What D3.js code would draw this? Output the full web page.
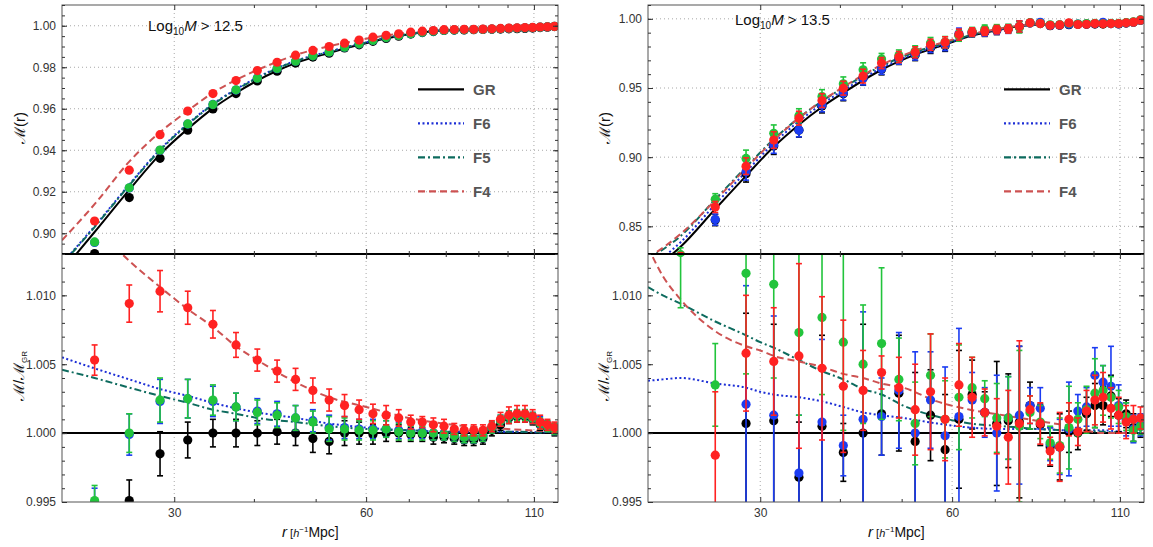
<!DOCTYPE html>
<html>
<head>
<meta charset="utf-8">
<script src="https://cdn.jsdelivr.net/npm/d3@7"></script>
<style>
  body { margin: 0; background: #fff; font-family: "Liberation Sans", Arial, sans-serif; }
</style>
</head>
<body>
<svg id="chart" width="1153" height="547"></svg>
<script>
// bin centres, r in h^-1 Mpc
const rBins = [22.5, 25.5, 28.5, 31.5, 34.5, 37.5, 40.5, 43.5, 46.5, 49.5, 52.5, 55.5, 58.5, 61.5, 64.5, 67.5, 70.5,
  73.5, 76.5, 79.5, 82.5, 85.5, 88.5, 91.5, 94.5, 97.5, 100.5, 103.5, 106.5, 109.5, 112.5, 115.5, 118.5];

const xMajor = [30, 60, 110];
const xMinor = [40, 50, 70, 80, 90, 100];
const ratioTicks = [0.995, 1.000, 1.005, 1.010];

// ---- Log10 M > 12.5 : M(r) points
const mLow_GR = [0.8902, 0.9172, 0.9361, 0.9497, 0.9599, 0.9673, 0.9734, 0.9781, 0.9820, 0.9849, 0.9868, 0.9893, 0.9908,
  0.9925, 0.9939, 0.9950, 0.9960, 0.9967, 0.9972, 0.9977, 0.9979, 0.9980, 0.9981, 0.9982, 0.9983, 0.9984, 0.9985,
  0.9986, 0.9987, 0.9989, 0.9991, 0.9993, 0.9996];
const mLow_F6 = [0.8956, 0.9218, 0.9400, 0.9526, 0.9621, 0.9690, 0.9748, 0.9793, 0.9829, 0.9856, 0.9874, 0.9897, 0.9913,
  0.9929, 0.9943, 0.9953, 0.9962, 0.9969, 0.9974, 0.9978, 0.9980, 0.9981, 0.9982, 0.9983, 0.9984, 0.9986, 0.9988,
  0.9989, 0.9990, 0.9991, 0.9993, 0.9995, 0.9997];
const mLow_F5 = [0.8958, 0.9219, 0.9401, 0.9527, 0.9620, 0.9691, 0.9747, 0.9794, 0.9829, 0.9855, 0.9874, 0.9897, 0.9913,
  0.9929, 0.9943, 0.9953, 0.9962, 0.9969, 0.9974, 0.9978, 0.9980, 0.9981, 0.9982, 0.9983, 0.9984, 0.9986, 0.9988,
  0.9989, 0.9990, 0.9991, 0.9993, 0.9995, 0.9997];
const mLow_F4 = [0.9059, 0.9304, 0.9475, 0.9589, 0.9673, 0.9736, 0.9784, 0.9824, 0.9858, 0.9881, 0.9900, 0.9916, 0.9931,
  0.9945, 0.9954, 0.9961, 0.9969, 0.9974, 0.9977, 0.9981, 0.9982, 0.9983, 0.9983, 0.9984, 0.9985, 0.9987, 0.9989,
  0.9990, 0.9991, 0.9992, 0.9994, 0.9995, 0.9997];

// model curves, upper left
const rCurveLowUp = [20, 22.5, 25.5, 28.5, 31.5, 34.5, 37.5, 40.5, 43.5, 46.5, 52.5, 58.5, 64.5, 70.5, 79.5, 88.5, 100.5, 110, 120];
const curveLowUp_GR = [0.8817, 0.9006, 0.9209, 0.9380, 0.9503, 0.9602, 0.9676, 0.9736, 0.9783, 0.9820, 0.9869, 0.9908, 0.9939, 0.9960, 0.9977, 0.9981, 0.9985, 0.9989, 0.9997];
const curveLowUp_F6 = [0.8855, 0.9034, 0.9235, 0.9404, 0.9527, 0.9623, 0.9694, 0.9751, 0.9796, 0.9831, 0.9876, 0.9912, 0.9942, 0.9962, 0.9978, 0.9982, 0.9986, 0.9990, 0.9997];
const curveLowUp_F5 = [0.8850, 0.9030, 0.9231, 0.9400, 0.9524, 0.9620, 0.9691, 0.9748, 0.9794, 0.9829, 0.9874, 0.9911, 0.9941, 0.9962, 0.9978, 0.9982, 0.9986, 0.9990, 0.9997];
const curveLowUp_F4 = [0.8966, 0.9140, 0.9345, 0.9487, 0.9590, 0.9677, 0.9739, 0.9787, 0.9826, 0.9859, 0.9901, 0.9931, 0.9953, 0.9968, 0.9980, 0.9984, 0.9986, 0.9990, 0.9997];

// ratio M/M_GR, lower left
const ratioLow_GR = [0.9930, 0.9951, 0.9985, 0.9995, 1.0000, 1.0000, 1.0000, 1.0001, 1.0000, 0.9996, 0.9994, 1.0000, 1.0000,
  0.9999, 1.0000, 1.0000, 0.9999, 0.9999, 0.9997, 0.9997, 0.9996, 0.9995, 0.9995, 0.9996, 1.0002, 1.0006, 1.0011,
  1.0012, 1.0012, 1.0010, 1.0006, 1.0004, 1.0002];
const errLow_GR = [0.0011, 0.0015, 0.0016, 0.0013, 0.0010, 0.0010, 0.0009, 0.0009, 0.0009, 0.0010, 0.0009, 0.0009, 0.0008,
  0.0007, 0.0006, 0.0006, 0.0005, 0.0005, 0.0005, 0.0004, 0.0004, 0.0004, 0.0004, 0.0004, 0.0004, 0.0004, 0.0004,
  0.0004, 0.0004, 0.0004, 0.0004, 0.0004, 0.0004];
const ratioLow_F6 = [0.9949, 0.9999, 1.0023, 1.0025, 1.0023, 1.0019, 1.0016, 1.0014, 1.0011, 1.0009, 1.0004, 1.0004, 1.0003,
  1.0003, 1.0003, 1.0002, 1.0001, 1.0001, 1.0000, 0.9999, 0.9998, 0.9997, 0.9997, 0.9998, 1.0004, 1.0009, 1.0012,
  1.0013, 1.0013, 1.0011, 1.0008, 1.0005, 1.0003];
const errLow_F6 = [0.0011, 0.0015, 0.0016, 0.0014, 0.0011, 0.0010, 0.0009, 0.0009, 0.0009, 0.0008, 0.0009, 0.0008, 0.0007,
  0.0007, 0.0006, 0.0006, 0.0005, 0.0005, 0.0005, 0.0004, 0.0004, 0.0004, 0.0004, 0.0004, 0.0004, 0.0004, 0.0004,
  0.0004, 0.0004, 0.0004, 0.0004, 0.0004, 0.0004];
const ratioLow_F5 = [0.9951, 1.0000, 1.0024, 1.0025, 1.0024, 1.0019, 1.0015, 1.0013, 1.0011, 1.0008, 1.0003, 1.0003, 1.0002,
  1.0002, 1.0003, 1.0001, 1.0000, 1.0000, 1.0000, 0.9999, 0.9998, 0.9997, 0.9997, 0.9998, 1.0004, 1.0009, 1.0012,
  1.0013, 1.0013, 1.0011, 1.0007, 1.0005, 1.0003];
const errLow_F5 = [0.0011, 0.0014, 0.0016, 0.0014, 0.0011, 0.0010, 0.0009, 0.0009, 0.0009, 0.0008, 0.0009, 0.0008, 0.0007,
  0.0007, 0.0006, 0.0006, 0.0005, 0.0005, 0.0005, 0.0004, 0.0004, 0.0004, 0.0004, 0.0004, 0.0004, 0.0004, 0.0004,
  0.0004, 0.0004, 0.0004, 0.0004, 0.0004, 0.0004];
const ratioLow_F4 = [1.0053, 1.0094, 1.0103, 1.0091, 1.0079, 1.0064, 1.0053, 1.0045, 1.0039, 1.0031, 1.0024, 1.0020, 1.0017,
  1.0014, 1.0013, 1.0011, 1.0008, 1.0008, 1.0006, 1.0005, 1.0003, 1.0002, 1.0002, 1.0002, 1.0005, 1.0010, 1.0013,
  1.0014, 1.0014, 1.0012, 1.0008, 1.0006, 1.0004];
const errLow_F4 = [0.0011, 0.00135, 0.0015, 0.0012, 0.0010, 0.0009, 0.0008, 0.0008, 0.0008, 0.0009, 0.0008, 0.0008, 0.0007,
  0.0007, 0.0007, 0.0006, 0.0005, 0.0004, 0.0005, 0.0005, 0.0004, 0.0004, 0.0004, 0.0004, 0.0004, 0.0005, 0.0006,
  0.0006, 0.0006, 0.0005, 0.0005, 0.0004, 0.0004];

const rCurveLowRatio = [20, 22.5, 25.5, 28.5, 31.5, 34.5, 37.5, 40.5, 46.5, 52.5, 60, 70, 82.5, 100, 120];
const curveLowRatio_GR = [1, 1, 1, 1, 1, 1, 1, 1, 1, 1, 1, 1, 1, 1, 1];
const curveLowRatio_F6 = [1.0055, 1.0047, 1.0039, 1.0032, 1.0027, 1.0022, 1.0018, 1.0015, 1.0011, 1.0007, 1.0004, 1.0002, 1.0001, 1.0001, 1.0000];
const curveLowRatio_F5 = [1.0046, 1.0040, 1.0033, 1.0027, 1.0022, 1.0017, 1.0014, 1.0011, 1.0008, 1.0005, 1.0003, 1.0002, 1.0001, 1.0001, 1.0000];
const curveLowRatio_F4 = [1.0175, 1.0150, 1.0125, 1.0106, 1.0090, 1.0077, 1.0063, 1.0053, 1.0037, 1.0026, 1.0019, 1.0011, 1.0006, 1.0003, 1.0001];

// ---- Log10 M > 13.5 : M(r) points
const mHigh_GR = [0.8140, 0.8545, 0.8880, 0.9080, 0.9195, 0.9370, 0.9458, 0.9570, 0.9635, 0.9710, 0.9738, 0.9790, 0.9805,
  0.9883, 0.9900, 0.9903, 0.9916, 0.9928, 0.9943, 0.9970, 0.9966, 0.9950, 0.9953, 0.9958, 0.9960, 0.9960, 0.9962,
  0.9962, 0.9966, 0.9963, 0.9969, 0.9975, 0.9989];
const mHigh_F6 = [0.8150, 0.8549, 0.8894, 0.9088, 0.9197, 0.9378, 0.9463, 0.9572, 0.9639, 0.9712, 0.9742, 0.9796, 0.9810,
  0.9893, 0.9903, 0.9905, 0.9918, 0.9925, 0.9945, 0.9970, 0.9975, 0.9952, 0.9955, 0.9960, 0.9962, 0.9963, 0.9965,
  0.9975, 0.9966, 0.9964, 0.9970, 0.9975, 0.9990];
const mHigh_F5 = [0.8295, 0.8696, 0.8991, 0.9173, 0.9300, 0.9438, 0.9530, 0.9632, 0.9710, 0.9735, 0.9765, 0.9825, 0.9832,
  0.9878, 0.9908, 0.9925, 0.9928, 0.9930, 0.9938, 0.9972, 0.9968, 0.9957, 0.9958, 0.9968, 0.9962, 0.9966, 0.9968,
  0.9966, 0.9968, 0.9968, 0.9972, 0.9978, 0.9992];
const mHigh_F4 = [0.8260, 0.8640, 0.8935, 0.9124, 0.9282, 0.9409, 0.9499, 0.9586, 0.9680, 0.9724, 0.9758, 0.9813, 0.9830,
  0.9886, 0.9905, 0.9910, 0.9922, 0.9927, 0.9945, 0.9971, 0.9966, 0.9953, 0.9956, 0.9971, 0.9959, 0.9961, 0.9966,
  0.9964, 0.9966, 0.9966, 0.9971, 0.9976, 0.9990];
const errHighUp = [0.005, 0.004, 0.006, 0.006, 0.005, 0.005, 0.005, 0.005, 0.004, 0.004, 0.004, 0.004, 0.004, 0.004, 0.003,
  0.003, 0.003, 0.003, 0.004, 0.002, 0.002, 0.002, 0.002, 0.002, 0.002, 0.0015, 0.0015, 0.0015, 0.0015, 0.0015,
  0.001, 0.001, 0.001];

const rCurveHighUp = [20, 22.5, 25.5, 28.5, 31.5, 34.5, 37.5, 40.5, 46.5, 52.5, 58.5, 64.5, 70.5, 76.5, 82.5, 91.5, 100.5, 106.5, 112.5, 120];
const curveHighUp_GR = [0.8165, 0.8352, 0.8625, 0.8865, 0.9075, 0.9235, 0.9363, 0.9465, 0.9632, 0.9741, 0.9814, 0.9879, 0.9918, 0.9946, 0.9959, 0.9961, 0.9959, 0.9956, 0.9966, 0.9990];
const curveHighUp_F6 = [0.8195, 0.8385, 0.8659, 0.8894, 0.9101, 0.9260, 0.9384, 0.9483, 0.9644, 0.9750, 0.9819, 0.9883, 0.9921, 0.9948, 0.9961, 0.9963, 0.9961, 0.9957, 0.9967, 0.9990];
const curveHighUp_F5 = [0.8265, 0.8430, 0.8695, 0.8928, 0.9130, 0.9284, 0.9405, 0.9502, 0.9659, 0.9760, 0.9826, 0.9886, 0.9922, 0.9949, 0.9962, 0.9963, 0.9960, 0.9957, 0.9966, 0.9990];
const curveHighUp_F4 = [0.8270, 0.8445, 0.8688, 0.8920, 0.9122, 0.9283, 0.9408, 0.9507, 0.9667, 0.9770, 0.9834, 0.9891, 0.9926, 0.9952, 0.9963, 0.9963, 0.9960, 0.9957, 0.9966, 0.9990];

// ratio M/M_GR, lower right (null = outside the frame)
const ratioHigh_GR = [null, null, 1.0007, 1.0009, 0.9968, 1.0005, 0.9986, 1.0000, 1.0014, 1.0029, 0.9994, 1.0013, 0.9988,
  1.0010, 1.0028, 1.0015, 1.0007, 1.0009, 1.0008, 1.0020, 1.0006, 0.9990, 0.9990, 1.0001, 1.0000, 1.0014, 1.0020,
  1.0020, 1.0027, 1.0013, 1.0014, 1.0004, 1.0005];
const errHigh_GR = [0, 0, 0.0080, 0.0070, 0.0040, 0.0066, 0.0021, 0.0079, 0.0030, 0.0042, 0.0050, 0.0033, 0.0040, 0.0050,
  0.0025, 0.0015, 0.0045, 0.0034, 0.0055, 0.0017, 0.0015, 0.0014, 0.0024, 0.0015, 0.0012, 0.0012, 0.0016, 0.0014,
  0.0015, 0.0012, 0.0010, 0.0010, 0.0008];
const ratioHigh_F6 = [null, 0.9910, 1.0021, 1.0013, 0.9971, 1.0008, 0.9991, 1.0010, 1.0012, 1.0031, 1.0000, 1.0024, 0.9998,
  1.0012, 1.0024, 1.0015, 1.0000, 1.0011, 1.0013, 1.0020, 1.0018, 0.9992, 0.9990, 1.0003, 1.0016, 1.0019, 1.0042,
  1.0037, 1.0034, 1.0020, 1.0010, 1.0003, 1.0006];
const errHigh_F6 = [0, 0.0030, 0.0086, 0.0072, 0.0042, 0.0060, 0.0022, 0.0078, 0.0028, 0.0042, 0.0059, 0.0035, 0.0050,
  0.0064, 0.0020, 0.0018, 0.0042, 0.0030, 0.0050, 0.0013, 0.0015, 0.0012, 0.0020, 0.0034, 0.0012, 0.0014, 0.0020,
  0.0012, 0.0029, 0.0015, 0.0012, 0.0010, 0.0008];
const ratioHigh_F5 = [1.0131, 1.0035, 1.0116, 1.0108, 1.0073, 1.0084, 1.0066, 1.0050, 1.0065, 1.0039, 1.0007, 1.0042, 1.0010,
  1.0026, 1.0033, 1.0025, 1.0011, 1.0011, 1.0005, 1.0015, 1.0008, 0.9993, 0.9991, 1.0004, 1.0010, 1.0017, 1.0029,
  1.0031, 1.0026, 1.0019, 1.0012, 1.0002, 1.0005];
const errHigh_F5 = [0.0040, 0.0030, 0.0073, 0.0068, 0.0060, 0.0056, 0.0064, 0.0043, 0.0055, 0.0030, 0.0030, 0.0030, 0.0028,
  0.0038, 0.0022, 0.0013, 0.0025, 0.0030, 0.0055, 0.0012, 0.0012, 0.0012, 0.0020, 0.0030, 0.0012, 0.0017, 0.0025,
  0.0018, 0.0015, 0.0012, 0.0010, 0.0008, 0.0006];
const ratioHigh_F4 = [null, 0.9984, 1.0058, 1.0052, 1.0056, 1.0047, 1.0034, 1.0031, 1.0044, 1.0033, 1.0017, 1.0030, 1.0010,
  1.0035, 1.0026, 1.0015, 1.0005, 0.9997, 1.0007, 1.0017, 1.0007, 0.9987, 0.9990, 1.0010, 1.0001, 1.0016, 1.0024,
  1.0026, 1.0018, 1.0013, 1.0008, 1.0010, 1.0011];
const errHigh_F4 = [0, 0.0046, 0.0042, 0.0039, 0.0067, 0.0052, 0.0048, 0.0029, 0.0012, 0.0022, 0.0033, 0.0042, 0.0030,
  0.0030, 0.0029, 0.0017, 0.0020, 0.0034, 0.0060, 0.0010, 0.0015, 0.0010, 0.0025, 0.0012, 0.0010, 0.0015, 0.0018,
  0.0018, 0.0015, 0.0013, 0.0012, 0.0010, 0.0008];

const rCurveHighRatio = [20, 21.1, 22.5, 25.5, 28.5, 30, 31.5, 34.5, 37.5, 40.5, 43.5, 46.5, 50.3, 56.8, 64, 72.2, 81.5, 91.9, 103.7, 117, 120];
const curveHighRatio_GR = [1, 1, 1, 1, 1, 1, 1, 1, 1, 1, 1, 1, 1, 1, 1, 1, 1, 1, 1, 1, 1];
const curveHighRatio_F6 = [1.0038, 1.0039, 1.0040, 1.0036, 1.0033, 1.0030, 1.0028, 1.0026, 1.0023, 1.0019, 1.0015, 1.0013, 1.0011, 1.0007, 1.0004, 1.0003, 1.0003, 1.0002, 1.0002, 1.0000, 1.0000];
const curveHighRatio_F5 = [1.0106, 1.0100, 1.0094, 1.0081, 1.0071, 1.0066, 1.0062, 1.0053, 1.0045, 1.0039, 1.0032, 1.0028, 1.0020, 1.0012, 1.0007, 1.0005, 1.0003, 1.0002, 1.0001, 1.0000, 1.0000];
const curveHighRatio_F4 = [1.0135, 1.0114, 1.0097, 1.0074, 1.0063, 1.0060, 1.0056, 1.0052, 1.0048, 1.0043, 1.0040, 1.0036, 1.0033, 1.0023, 1.0017, 1.0013, 1.0009, 1.0005, 1.0000, 1.0000, 1.0000];

const series = [
  { key: "GR", dot: "#000000", line: "#000000", dash: null, width: 2 },
  { key: "F6", dot: "#1b3cf2", line: "#1c2ed6", dash: "2,2.5", width: 2 },
  { key: "F5", dot: "#22c43c", line: "#0d6b5e", dash: "7,3,2,3", width: 2 },
  { key: "F4", dot: "#ff2222", line: "#cd5252", dash: "7,4", width: 2 }
];

const panels = [
  {
    x0: 62, x1: 558, cut: "12.5", titleX: 148, titleY: 31, legendX: 418, labelX: 20,
    upDomain: [0.89, 1.01], upTicks: [0.90, 0.92, 0.94, 0.96, 0.98, 1.00], upMinorStep: 0.005,
    up: [mLow_GR, mLow_F6, mLow_F5, mLow_F4], upErr: null,
    upCurveR: rCurveLowUp, upCurves: [curveLowUp_GR, curveLowUp_F6, curveLowUp_F5, curveLowUp_F4],
    ratio: [ratioLow_GR, ratioLow_F6, ratioLow_F5, ratioLow_F4],
    ratioErr: [errLow_GR, errLow_F6, errLow_F5, errLow_F4],
    ratioCurveR: rCurveLowRatio,
    ratioCurves: [curveLowRatio_GR, curveLowRatio_F6, curveLowRatio_F5, curveLowRatio_F4]
  },
  {
    x0: 648, x1: 1144, cut: "13.5", titleX: 735, titleY: 25, legendX: 1004, labelX: 605,
    upDomain: [0.83, 1.01], upTicks: [0.85, 0.90, 0.95, 1.00], upMinorStep: 0.01,
    up: [mHigh_GR, mHigh_F6, mHigh_F5, mHigh_F4], upErr: [errHighUp, errHighUp, errHighUp, errHighUp],
    upCurveR: rCurveHighUp, upCurves: [curveHighUp_GR, curveHighUp_F6, curveHighUp_F5, curveHighUp_F4],
    ratio: [ratioHigh_GR, ratioHigh_F6, ratioHigh_F5, ratioHigh_F4],
    ratioErr: [errHigh_GR, errHigh_F6, errHigh_F5, errHigh_F4],
    ratioCurveR: rCurveHighRatio,
    ratioCurves: [curveHighRatio_GR, curveHighRatio_F6, curveHighRatio_F5, curveHighRatio_F4]
  }
];

const svg = d3.select("#chart");
const defs = svg.append("defs");
const yTop = 5, yMid = 254, yBot = 502;
const font = "'Liberation Sans', Arial, sans-serif";

function steps(lo, hi, step) {
  return d3.range(Math.round(lo / step), Math.round(hi / step) + 1).map(k => +(k * step).toFixed(4));
}

// curves + points with error bars for one sub panel
function drawSub(g, x, y, clipId, pts, errs, curveR, curves) {
  const sg = g.append("g").attr("clip-path", `url(#${clipId})`);
  const line = d3.line().x(d => x(d[0])).y(d => y(d[1])).curve(d3.curveMonotoneX);

  series.forEach((s, i) => {
    sg.append("path")
      .datum(d3.zip(curveR, curves[i]))
      .attr("d", line)
      .attr("fill", "none")
      .attr("stroke", s.line)
      .attr("stroke-width", s.width)
      .attr("stroke-dasharray", s.dash);
  });

  series.forEach((s, i) => {
    const data = rBins.map((r, j) => ({ r, v: pts[i][j], e: errs ? errs[i][j] : 0 }))
      .filter(d => d.v != null);

    const eg = sg.append("g").attr("stroke", s.dot).attr("stroke-width", 1.6);
    data.filter(d => d.e > 0).forEach(d => {
      const cx = x(d.r);
      eg.append("line").attr("x1", cx).attr("x2", cx).attr("y1", y(d.v - d.e)).attr("y2", y(d.v + d.e));
      [d.v - d.e, d.v + d.e].forEach(v => {
        eg.append("line").attr("x1", cx - 3).attr("x2", cx + 3).attr("y1", y(v)).attr("y2", y(v));
      });
    });

    sg.append("g")
      .selectAll("circle")
      .data(data)
      .join("circle")
      .attr("cx", d => x(d.r))
      .attr("cy", d => y(d.v))
      .attr("r", 4.6)
      .attr("fill", s.dot);
  });
}

function styleAxis(sel) {
  sel.select(".domain").remove();
  sel.attr("font-family", font).attr("font-size", 12).attr("color", "#333");
}

function drawPanel(p, idx) {
  const x = d3.scaleLog().domain([20, 120]).range([p.x0, p.x1]);
  const yU = d3.scaleLinear().domain(p.upDomain).range([yMid, yTop]);
  const yL = d3.scaleLinear().domain([0.995, 1.013]).range([yBot, yMid]);
  const w = p.x1 - p.x0;
  const g = svg.append("g");

  defs.append("clipPath").attr("id", "cu" + idx)
    .append("rect").attr("x", p.x0).attr("y", yTop).attr("width", w).attr("height", yMid - yTop);
  defs.append("clipPath").attr("id", "cl" + idx)
    .append("rect").attr("x", p.x0).attr("y", yMid).attr("width", w).attr("height", yBot - yMid);

  // dotted grid
  const grid = g.append("g").attr("stroke", "#a8a8a8").attr("stroke-width", 1).attr("stroke-dasharray", "1,3");
  xMajor.forEach(v => grid.append("line").attr("x1", x(v)).attr("x2", x(v)).attr("y1", yTop).attr("y2", yBot));
  p.upTicks.forEach(v => grid.append("line").attr("x1", p.x0).attr("x2", p.x1).attr("y1", yU(v)).attr("y2", yU(v)));

  drawSub(g, x, yU, "cu" + idx, p.up, p.upErr, p.upCurveR, p.upCurves);
  drawSub(g, x, yL, "cl" + idx, p.ratio, p.ratioErr, p.ratioCurveR, p.ratioCurves);

  // frame
  g.append("rect").attr("x", p.x0).attr("y", yTop).attr("width", w).attr("height", yBot - yTop)
    .attr("fill", "none").attr("stroke", "#555").attr("stroke-width", 1);
  g.append("line").attr("x1", p.x0).attr("x2", p.x1).attr("y1", yMid).attr("y2", yMid)
    .attr("stroke", "#000").attr("stroke-width", 2.2);

  // y axes, both sides, ticks pointing in
  const upMinor = steps(p.upDomain[0], p.upDomain[1], p.upMinorStep);
  const loMinor = steps(0.995, 1.013, 0.001);
  [[yU, p.upTicks, upMinor, ".2f"], [yL, ratioTicks, loMinor, ".3f"]].forEach(([y, ticks, minor, fmt]) => {
    g.append("g").attr("transform", `translate(${p.x0},0)`)
      .call(d3.axisLeft(y).tickValues(ticks).tickSize(-5).tickPadding(6).tickFormat(d3.format(fmt))).call(styleAxis);
    g.append("g").attr("transform", `translate(${p.x0},0)`)
      .call(d3.axisLeft(y).tickValues(minor).tickSize(-3).tickFormat("")).call(styleAxis);
    g.append("g").attr("transform", `translate(${p.x1},0)`)
      .call(d3.axisRight(y).tickValues(ticks).tickSize(-5).tickFormat("")).call(styleAxis);
    g.append("g").attr("transform", `translate(${p.x1},0)`)
      .call(d3.axisRight(y).tickValues(minor).tickSize(-3).tickFormat("")).call(styleAxis);
  });

  // x axes
  const xa = [
    [d3.axisTop, yTop], [d3.axisBottom, yMid], [d3.axisTop, yMid], [d3.axisBottom, yBot]
  ];
  xa.forEach(([ax, yy], k) => {
    const labels = k === 3;
    g.append("g").attr("transform", `translate(0,${yy})`)
      .call(ax(x).tickValues(xMajor).tickSize(-5).tickPadding(6).tickFormat(labels ? d3.format("d") : ""))
      .call(styleAxis);
    g.append("g").attr("transform", `translate(0,${yy})`)
      .call(ax(x).tickValues(xMinor).tickSize(-3).tickFormat(""))
      .call(styleAxis);
  });

  // title
  const t = g.append("text").attr("x", p.titleX).attr("y", p.titleY)
    .attr("font-family", font).attr("font-size", 15).attr("fill", "#111");
  t.append("tspan").text("Log");
  t.append("tspan").attr("font-size", 10).attr("dy", 4).text("10");
  t.append("tspan").attr("dy", -4).attr("font-style", "italic").text("M");
  t.append("tspan").text(" > " + p.cut);

  // legend
  series.forEach((s, i) => {
    const ly = 89.3 + i * 34;
    g.append("line").attr("x1", p.legendX).attr("x2", p.legendX + 46).attr("y1", ly).attr("y2", ly)
      .attr("stroke", s.line).attr("stroke-width", 2.2).attr("stroke-dasharray", s.dash);
    g.append("text").attr("x", p.legendX + 55).attr("y", ly).attr("dy", "0.36em")
      .attr("font-family", font).attr("font-size", 15).attr("font-weight", "bold").attr("fill", "#555")
      .text(s.key);
  });

  // y labels
  g.append("text").attr("transform", `translate(${p.labelX},128) rotate(-90)`)
    .attr("text-anchor", "middle").attr("dy", "0.35em")
    .attr("font-family", font).attr("font-size", 15).attr("fill", "#111").text("ℳ(r)");
  const rl = g.append("text").attr("transform", `translate(${p.labelX - 1},376) rotate(-90)`)
    .attr("text-anchor", "middle").attr("dy", "0.35em")
    .attr("font-family", font).attr("font-size", 15).attr("fill", "#111");
  rl.append("tspan").text("ℳ/ℳ");
  rl.append("tspan").attr("font-size", 8).attr("dy", 3).text("GR");

  // x label
  const xl = g.append("text").attr("x", (p.x0 + p.x1) / 2 - 28).attr("y", 537)
    .attr("font-family", font).attr("fill", "#111");
  xl.append("tspan").attr("font-size", 15).attr("font-style", "italic").text("r");
  xl.append("tspan").attr("font-size", 11).text(" [");
  xl.append("tspan").attr("font-size", 11).attr("font-style", "italic").text("h");
  xl.append("tspan").attr("font-size", 8).attr("dy", -5).text("−1");
  xl.append("tspan").attr("font-size", 14).attr("dy", 5).text("Mpc]");
}

panels.forEach(drawPanel);
</script>
</body>
</html>
